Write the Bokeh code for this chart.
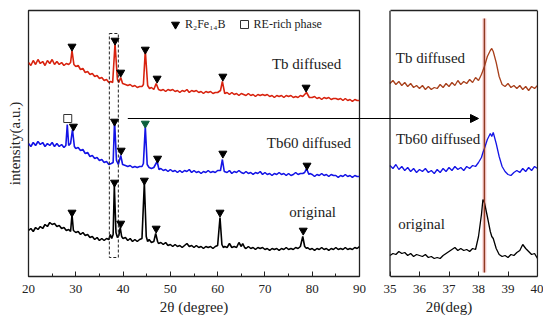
from bokeh.plotting import figure
from bokeh.layouts import row
from bokeh.models import FixedTicker, Arrow, NormalHead, Legend, LegendItem, ColumnDataSource, LinearAxis, Span
from bokeh.core.properties import value
from bokeh.embed import file_html
from bokeh.resources import INLINE

SERIF = "Liberation Serif"

# ---------------- data: full pattern (2theta, intensity a.u.) ----------------
tth_orig = [20.0, 20.5, 21.0, 21.5, 22.0, 22.5, 23.0, 23.5, 24.0, 24.5, 25.0, 25.5, 26.0, 26.5, 27.0, 27.5,
            28.0, 28.5, 28.9, 29.2, 29.5, 30.0, 30.5, 31.0, 31.5, 32.0, 32.5, 33.0, 33.5, 34.0, 34.5, 35.0,
            35.5, 36.0, 36.5, 37.0, 37.3, 37.6, 37.9, 38.15, 38.5, 38.8, 39.1, 39.4, 39.7, 40.0, 40.5, 41.0,
            41.5, 42.0, 42.5, 43.0, 43.5, 44.0, 44.5, 44.9, 45.2, 45.5, 46.0, 46.5, 46.9, 47.3, 47.5, 48.0,
            48.5, 49.0, 49.5, 50.0, 50.5, 51.0, 51.5, 52.0, 52.5, 53.0, 53.5, 54.0, 54.5, 55.0, 55.5, 56.0,
            56.5, 57.0, 57.5, 58.0, 58.5, 59.0, 59.5, 60.0, 60.5, 60.9, 61.2, 61.5, 62.0, 62.5, 63.0, 63.5,
            64.0, 64.5, 65.0, 65.3, 65.7, 66.0, 66.5, 67.0, 67.5, 68.0, 68.5, 69.0, 69.5, 70.0, 70.5, 71.0,
            71.5, 72.0, 72.5, 73.0, 73.5, 74.0, 74.5, 75.0, 75.5, 76.0, 76.5, 77.0, 77.5, 78.0, 78.4, 78.8,
            79.0, 79.5, 80.0, 80.5, 81.0, 81.5, 82.0, 82.5, 83.0, 83.5, 84.0, 84.5, 85.0, 85.5, 86.0, 86.5,
            87.0, 87.5, 88.0, 88.5, 89.0, 89.5, 90.0]
int_orig = [46, 48, 45, 49, 47, 50, 48, 52, 50, 54, 52, 53, 50, 51, 48, 49,
            46, 47, 45, 62, 46, 44, 45, 42, 44, 41, 42, 39, 40, 37, 39, 36,
            38, 36, 38, 37, 42, 38, 42, 91, 44, 39, 41, 49, 40, 38, 39, 36,
            38, 35, 37, 35, 37, 38, 94, 40, 35, 37, 34, 35, 43, 35, 33, 34,
            32, 34, 31, 32, 30, 32, 30, 31, 29, 31, 33, 30, 31, 29, 31, 29,
            30, 28, 30, 29, 30, 28, 30, 31, 59, 32, 29, 30, 29, 33, 29, 30,
            29, 34, 30, 33, 29, 28, 30, 28, 29, 27, 29, 28, 29, 27, 28, 26,
            28, 27, 28, 26, 28, 27, 29, 27, 28, 27, 29, 28, 30, 40, 30, 28,
            29, 27, 28, 26, 28, 27, 29, 27, 28, 26, 28, 27, 29, 27, 28, 27,
            29, 27, 28, 27, 29, 28, 30]

tth_tb60 = [20.0, 20.5, 21.0, 21.5, 22.0, 22.5, 23.0, 23.5, 24.0, 24.5, 25.0, 25.5, 26.0, 26.5, 27.0, 27.5,
            27.9, 28.2, 28.5, 28.9, 29.3, 29.7, 30.0, 30.5, 31.0, 31.5, 32.0, 32.5, 33.0, 33.5, 34.0, 34.5,
            35.0, 35.5, 36.0, 36.5, 37.0, 37.5, 37.9, 38.2, 38.6, 39.0, 39.5, 39.9, 40.5, 41.0, 41.5, 42.0,
            42.5, 43.0, 43.5, 44.0, 44.3, 44.7, 45.1, 45.5, 46.0, 46.5, 47.2, 47.6, 48.0, 48.5, 49.0, 49.5,
            50.0, 50.5, 51.0, 51.5, 52.0, 52.5, 53.0, 53.5, 54.0, 54.5, 55.0, 55.5, 56.0, 56.5, 57.0, 57.5,
            58.0, 58.5, 59.0, 59.5, 60.0, 60.6, 61.0, 61.4, 62.0, 62.5, 63.0, 63.5, 64.0, 64.5, 65.0, 65.5,
            66.0, 66.5, 67.0, 67.5, 68.0, 68.5, 69.0, 69.5, 70.0, 70.5, 71.0, 71.5, 72.0, 72.5, 73.0, 73.5,
            74.0, 74.5, 75.0, 75.5, 76.0, 76.5, 77.0, 77.5, 78.0, 78.4, 78.8, 79.3, 79.5, 80.0, 80.5, 81.0,
            81.5, 82.0, 82.5, 83.0, 83.5, 84.0, 84.5, 85.0, 85.5, 86.0, 86.5, 87.0, 87.5, 88.0, 88.5, 89.0,
            89.5, 90.0]
int_tb60 = [133, 130, 134, 131, 135, 132, 134, 130, 133, 131, 134, 130, 133, 130, 132, 129,
            131, 152, 131, 133, 147, 130, 128, 129, 126, 127, 123, 124, 120, 121, 118, 119,
            116, 117, 114, 115, 112, 113, 114, 156, 116, 112, 121, 112, 111, 110, 111, 109,
            110, 109, 110, 110, 113, 150, 112, 109, 108, 109, 115, 107, 108, 106, 107, 105,
            107, 105, 106, 104, 106, 104, 106, 105, 107, 104, 106, 104, 105, 103, 105, 104,
            106, 104, 105, 104, 106, 106, 117, 105, 104, 106, 103, 105, 104, 106, 104, 103,
            105, 103, 104, 102, 104, 103, 105, 102, 104, 102, 103, 101, 103, 102, 104, 102,
            103, 101, 103, 101, 102, 104, 102, 103, 103, 104, 108, 102, 103, 102, 100, 102,
            101, 103, 101, 102, 100, 102, 101, 101, 99, 101, 100, 102, 100, 101, 99, 101,
            100, 100]

tth_tb = [20.0, 20.5, 21.0, 21.5, 22.0, 22.5, 23.0, 23.5, 24.0, 24.5, 25.0, 25.5, 26.0, 26.5, 27.0, 27.5,
          28.0, 28.5, 28.9, 29.2, 29.6, 30.0, 30.5, 31.0, 31.5, 32.0, 32.5, 33.0, 33.5, 34.0, 34.5, 35.0,
          35.5, 36.0, 36.5, 37.0, 37.4, 37.8, 38.3, 38.8, 39.1, 39.5, 39.9, 40.5, 41.0, 41.5, 42.0, 42.5,
          43.0, 43.5, 44.0, 44.3, 44.7, 45.2, 45.6, 46.0, 46.5, 47.0, 47.5, 48.0, 48.5, 49.0, 49.5, 50.0,
          50.5, 51.0, 51.5, 52.0, 52.5, 53.0, 53.5, 54.0, 54.5, 55.0, 55.5, 56.0, 56.5, 57.0, 57.5, 58.0,
          58.5, 59.0, 59.5, 60.0, 60.6, 61.0, 61.5, 62.0, 62.5, 63.0, 63.5, 64.0, 64.5, 65.0, 65.5, 66.0,
          66.5, 67.0, 67.5, 68.0, 68.5, 69.0, 69.5, 70.0, 70.5, 71.0, 71.5, 72.0, 72.5, 73.0, 73.5, 74.0,
          74.5, 75.0, 75.5, 76.0, 76.5, 77.0, 77.5, 78.0, 78.4, 78.8, 79.4, 80.0, 80.5, 81.0, 81.5, 82.0,
          82.5, 83.0, 83.5, 84.0, 84.5, 85.0, 85.5, 86.0, 86.5, 87.0, 87.5, 88.0, 88.5, 89.0, 89.5, 90.0]
int_tb = [214, 211, 216, 212, 217, 213, 215, 211, 216, 213, 217, 212, 215, 212, 214, 211,
          213, 212, 214, 226, 212, 210, 211, 207, 208, 204, 205, 202, 203, 200, 201, 198,
          199, 196, 197, 194, 195, 194, 233, 197, 194, 199, 193, 192, 191, 192, 190, 191,
          189, 190, 190, 192, 226, 191, 188, 189, 187, 193, 187, 186, 187, 185, 187, 186,
          187, 185, 186, 184, 186, 185, 187, 184, 186, 185, 186, 184, 185, 183, 185, 184,
          185, 183, 184, 184, 186, 195, 183, 184, 182, 184, 182, 183, 181, 183, 182, 181,
          183, 181, 182, 180, 182, 181, 182, 181, 182, 180, 181, 179, 181, 180, 181, 179,
          181, 180, 181, 179, 180, 179, 181, 180, 182, 184, 179, 179, 180, 178, 179, 177,
          179, 178, 179, 177, 178, 178, 177, 178, 176, 178, 176, 177, 175, 177, 176, 176]

# peak markers (R2Fe14B) and RE-rich phase marker
tri_x = [29.2, 38.2, 39.5, 44.5, 47.0, 60.5, 78.1,
         29.5, 38.2, 39.6, 47.3, 61.1, 78.9,
         29.2, 38.3, 39.5, 44.7, 47.2, 61.1, 78.7]
tri_y = [64, 94, 53, 96, 48, 64, 46,
         150, 155, 126, 118, 123, 111,
         230, 236, 204, 227, 198, 200, 189]
tri_green_x = [44.7]
tri_green_y = [153]
re_x = [28.3]
re_y = [158]

# ---------------- data: zoom 35-40 deg ----------------
z_tth = [35.0, 35.1, 35.2, 35.3, 35.4, 35.5, 35.6, 35.7, 35.8, 35.9, 36.0, 36.1, 36.2, 36.3, 36.4, 36.5,
         36.6, 36.7, 36.8, 36.9, 37.0, 37.1, 37.2, 37.3, 37.4, 37.5, 37.6, 37.7, 37.8, 37.9, 38.0, 38.1,
         38.15, 38.2, 38.3, 38.4, 38.45, 38.5, 38.6, 38.7, 38.8, 38.9, 39.0, 39.1, 39.2, 39.3, 39.4, 39.5,
         39.6, 39.7, 39.8, 39.9, 40.0]
z_tb = [193, 196, 192, 195, 191, 194, 190, 193, 189, 191, 188, 191, 187, 190, 187, 189,
        188, 192, 189, 193, 190, 194, 191, 196, 192, 195, 193, 197, 194, 199, 196, 202,
        206, 210, 220, 226, 228, 225, 214, 200, 192, 190, 193, 189, 191, 188, 191, 187,
        190, 186, 190, 188, 191]
z_tb60 = [111, 108, 112, 107, 110, 106, 109, 105, 108, 104, 107, 105, 108, 104, 106, 103,
          107, 104, 108, 105, 109, 106, 110, 107, 109, 106, 110, 108, 111, 110, 114, 119,
          124, 128, 137, 143, 140, 144, 133, 120, 110, 105, 102, 101, 104, 106, 104, 108,
          105, 109, 106, 110, 108]
z_orig = [21, 23, 22, 25, 23, 24, 21, 23, 20, 22, 21, 20, 22, 19, 20, 18,
          19, 18, 21, 23, 25, 27, 29, 26, 28, 26, 27, 25, 28, 27, 40, 62,
          77, 74, 60, 45, 40, 38, 28, 22, 20, 21, 19, 22, 21, 24, 26, 32,
          28, 25, 22, 23, 18]
ref_line_x = 38.2

xticks_full = [20, 30, 40, 50, 60, 70, 80, 90]
xticks_full_minor = [25, 35, 45, 55, 65, 75, 85]
xticks_zoom = [35, 36, 37, 38, 39, 40]

RED = "#d8230f"
BROWN = "#a8401c"
BLUE = "#1414e6"
INK = "#222222"

def style_xaxis(ax, ticks, minor, label):
    ax.ticker = FixedTicker(ticks=ticks, minor_ticks=minor)
    ax.major_tick_in = 5
    ax.major_tick_out = 0
    ax.minor_tick_in = 3
    ax.minor_tick_out = 0
    ax.major_tick_line_color = INK
    ax.minor_tick_line_color = INK
    ax.major_label_text_font = SERIF
    ax.major_label_text_font_size = "13px"
    ax.major_label_text_color = INK
    ax.major_label_standoff = 8
    ax.axis_label = label
    ax.axis_label_text_font = SERIF
    ax.axis_label_text_font_size = "15px"
    ax.axis_label_text_font_style = "normal"
    ax.axis_label_text_color = INK
    ax.axis_label_standoff = 3

# ---------------- left figure ----------------
p = figure(frame_width=331, frame_height=266, x_range=(20, 90), y_range=(0, 266),
           output_backend="svg", toolbar_location=None, title=None,
           min_border_left=28, min_border_right=12, min_border_top=10, min_border_bottom=44)
p.outline_line_color = INK
p.outline_line_width = 1.3
p.xgrid.visible = False
p.ygrid.visible = False
style_xaxis(p.xaxis[0], xticks_full, xticks_full_minor, "2θ (degree)")
p.xaxis.axis_line_color = None
p.yaxis.ticker = FixedTicker(ticks=[])
p.yaxis.axis_line_color = None
p.yaxis.major_tick_line_color = None
p.yaxis.minor_tick_line_color = None
p.yaxis.axis_label = "intensity(a.u.)"
p.yaxis.axis_label_text_font = SERIF
p.yaxis.axis_label_text_font_size = "15px"
p.yaxis.axis_label_text_font_style = "normal"
p.yaxis.axis_label_text_color = INK
p.yaxis.axis_label_standoff = 6

p.line(tth_orig, int_orig, line_color="black", line_width=1.6)
p.line(tth_tb60, int_tb60, line_color=BLUE, line_width=1.6)
p.line(tth_tb, int_tb, line_color=RED, line_width=1.6)

p.quad(left=37.1, right=39.0, bottom=19, top=243, fill_color=None,
       line_color=INK, line_dash="3 2", line_width=1)

tri = p.scatter(tri_x, tri_y, marker="inverted_triangle", size=8, fill_color="black", line_color="black")
p.scatter(tri_green_x, tri_green_y, marker="inverted_triangle", size=8, fill_color="#0b5e3c", line_color="#0b5e3c")
sq = p.scatter(re_x, re_y, marker="square", size=8, fill_color="white", line_color="#333333", line_width=1)

leg = Legend(items=[LegendItem(label="R₂Fe₁₄B", renderers=[tri]),
                    LegendItem(label="RE-rich phase", renderers=[sq])],
             location=(137, 242), orientation="horizontal", padding=0, margin=0, spacing=8,
             glyph_width=20, glyph_height=20, label_standoff=0,
             border_line_color=None, background_fill_alpha=0,
             label_text_font=SERIF, label_text_font_size="12px", label_text_color=INK)
p.add_layout(leg)

labels_full = ColumnDataSource(dict(x=[78.8, 79.3, 80.1], y=[213, 134, 65],
                                    t=["Tb diffused", "Tb60 diffused", "original"]))
p.text(x="x", y="y", text="t", source=labels_full, text_font=value(SERIF),
       text_font_size="15px", text_baseline="middle", text_align="center", text_color=INK)

p.add_layout(Arrow(x_start=41, y_start=158, x_end=97, y_end=158, end=None,
                   line_color="black", line_width=1.2))

# ---------------- right figure (frame reaches back over the gap) ----------------
PX_PER_DEG = 29.5
GAP_PX = 30.5
zx0 = 35 - GAP_PX / PX_PER_DEG
zx1 = 40 + 1 / PX_PER_DEG
q = figure(frame_width=179, frame_height=266, x_range=(zx0, zx1), y_range=(0, 266),
           output_backend="svg", toolbar_location=None, title=None,
           min_border_left=0, min_border_right=5, min_border_top=10, min_border_bottom=44,
           margin=(0, 0, 0, -12))
q.outline_line_color = None
q.background_fill_color = None
q.border_fill_color = None
q.xgrid.visible = False
q.ygrid.visible = False
q.yaxis.visible = False
style_xaxis(q.xaxis[0], xticks_zoom, [], "2θ(deg)")
q.xaxis.bounds = (35, 40)
q.xaxis.axis_line_color = INK
q.xaxis.axis_line_width = 1.3
top_axis = LinearAxis(bounds=(35, 40), ticker=FixedTicker(ticks=[]), axis_line_color=INK,
                      axis_line_width=1.3, major_tick_out=0, major_tick_in=0,
                      minor_tick_out=0, minor_tick_in=0)
q.add_layout(top_axis, "above")
q.add_layout(Span(location=35, dimension="height", line_color=INK, line_width=1.3))
q.add_layout(Span(location=40, dimension="height", line_color=INK, line_width=1.3))

q.segment(x0=[ref_line_x], y0=[4], x1=[ref_line_x], y1=[258], line_color="#f8cccc", line_width=4)
q.line(z_tth, z_orig, line_color="black", line_width=1.3)
q.line(z_tth, z_tb60, line_color=BLUE, line_width=1.3)
q.line(z_tth, z_tb, line_color=BROWN, line_width=1.3)
q.segment(x0=[ref_line_x], y0=[4], x1=[ref_line_x], y1=[258], line_color="#8e3a22", line_width=1.4)

labels_zoom = ColumnDataSource(dict(x=[36.37, 36.63, 36.07], y=[219, 138, 53],
                                    t=["Tb diffused", "Tb60 diffused", "original"]))
q.text(x="x", y="y", text="t", source=labels_zoom, text_font=value(SERIF),
       text_font_size="15px", text_baseline="middle", text_align="center", text_color=INK)

q.add_layout(Arrow(x_start=zx0, y_start=158, x_end=38.0, y_end=158,
                   end=NormalHead(size=8, fill_color="black", line_color="black"),
                   line_color="black", line_width=1.2))

layout = row(p, q)
open("out.html", "w").write(file_html(layout, INLINE))
